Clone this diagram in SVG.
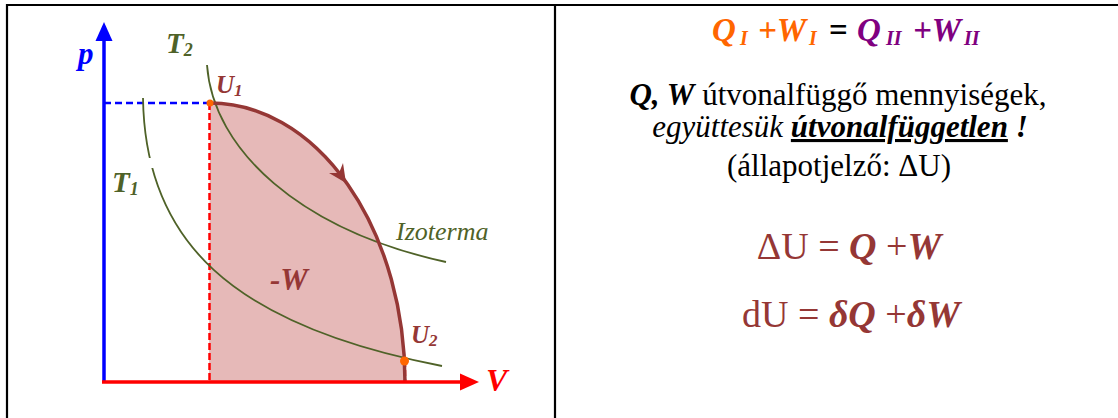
<svg xmlns="http://www.w3.org/2000/svg" width="1118" height="418" viewBox="0 0 1118 418">
<style>
.serif{font-family:"Liberation Serif","Times New Roman",serif}
.bi{font-weight:bold;font-style:italic}
.it{font-style:italic}
.olive{fill:#4F6228}
.brown{fill:#953735}
.iso{fill:none;stroke:#4F6228;stroke-width:1.8}
</style>
<rect width="1118" height="418" fill="#fff"/>
<g id="table" stroke="#000" stroke-width="2.2">
<line x1="6" y1="5" x2="1118" y2="5"/>
<line x1="7" y1="4" x2="7" y2="418"/>
<line x1="555" y1="4" x2="555" y2="418"/>
</g>
<g id="area">
<path d="M210,103 A195,279 0 0 1 405,382 L209,382 Z" fill="#E6B9B8"/>
</g>
<g id="guides" fill="none" stroke-width="2.5">
<line x1="104" y1="103" x2="210" y2="103" stroke="#0000FF" stroke-dasharray="7,4"/>
<line x1="209.5" y1="103" x2="209.5" y2="382" stroke="#FF0000" stroke-dasharray="7,3"/>
<line x1="405" y1="361" x2="405" y2="382" stroke="#FF0000" stroke-dasharray="6,3"/>
</g>
<g id="isotherm-T2">
<path class="iso" d="M207,65 C213,150 300,230 446,262"/>
</g>
<g id="isotherm-T1">
<path class="iso" d="M143,98 C145,240 230,325 442,366"/>
<rect x="144" y="158" width="10" height="10" fill="#fff"/>
</g>
<g id="connectors">
<path d="M210,103 A195,279 0 0 1 405,382" fill="none" stroke="#953735" stroke-width="3.5"/>
<polygon points="346,183 343,163 339,173 329,173" fill="#953735"/>
</g>
<g id="axes">
<line x1="104" y1="382" x2="104" y2="40" stroke="#0000FF" stroke-width="3.5"/>
<polygon points="104,22 95.5,41 112.5,41" fill="#0000FF"/>
<line x1="102" y1="382" x2="462" y2="382" stroke="#FF0000" stroke-width="3.5"/>
<polygon points="479,382 460,373.5 460,390.5" fill="#FF0000"/>
<text x="78" y="64" class="serif bi" font-size="31" fill="#0000FF">p</text>
<text x="486" y="391" class="serif bi" font-size="32" fill="#FF0000">V</text>
</g>
<g id="points">
<circle cx="210" cy="103" r="3.5" fill="#FF6600"/>
<circle cx="404.5" cy="361" r="4.5" fill="#FF6600"/>
</g>
<g id="labels" class="serif">
<text x="166" y="53" class="bi olive" font-size="29">T<tspan font-size="18" dy="3">2</tspan></text>
<text x="112" y="192" class="bi olive" font-size="29">T<tspan font-size="18" dy="3">1</tspan></text>
<text x="216" y="93" class="bi brown" font-size="25">U<tspan font-size="17" dy="3">1</tspan></text>
<text x="411" y="343" class="bi brown" font-size="25">U<tspan font-size="17" dy="3">2</tspan></text>
<text x="270" y="290" class="bi brown" font-size="31">-W</text>
<text x="396" y="240" class="it olive" font-size="26">Izoterma</text>
</g>
<g id="text-right" class="serif">
<text y="41" font-size="33" class="bi"><tspan x="712" fill="#FF6600">Q</tspan><tspan x="740" dy="4" font-size="20" fill="#FF6600">I</tspan><tspan x="758" dy="-4" fill="#FF6600">+W</tspan><tspan x="809" dy="4" font-size="20" fill="#FF6600">I</tspan><tspan x="829" dy="-4" fill="#000" font-style="normal">=</tspan><tspan x="857" fill="#800080">Q</tspan><tspan x="886" dy="4" font-size="20" fill="#800080">II</tspan><tspan x="913" dy="-4" fill="#800080">+W</tspan><tspan x="964" dy="4" font-size="20" fill="#800080">II</tspan></text>
<text x="838" y="105" font-size="31" text-anchor="middle" fill="#000"><tspan class="bi">Q, W</tspan> útvonalfüggő mennyiségek,</text>
<text x="840" y="137" font-size="31" text-anchor="middle" fill="#000"><tspan class="it">együttesük </tspan><tspan class="bi" text-decoration="underline">útvonalfüggetlen</tspan><tspan class="bi"> !</tspan></text>
<text x="839" y="176" font-size="31" text-anchor="middle" fill="#000">(állapotjelző: ΔU)</text>
<text x="849" y="259" font-size="38" text-anchor="middle" class="brown">ΔU = <tspan class="bi">Q</tspan> +<tspan class="bi">W</tspan></text>
<text x="851" y="327" font-size="38" text-anchor="middle" class="brown">dU = <tspan class="bi">δQ</tspan> +<tspan class="bi">δW</tspan></text>
</g>
</svg>
